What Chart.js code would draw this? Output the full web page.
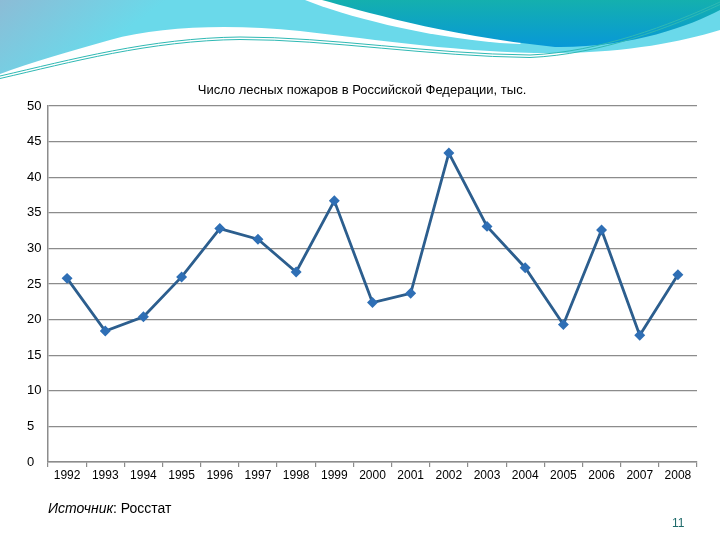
<!DOCTYPE html>
<html><head><meta charset="utf-8">
<script src="https://cdn.jsdelivr.net/npm/chart.js@4/dist/chart.umd.min.js"></script>
<style>
html,body{margin:0;padding:0;background:#fff;}
#wrap{position:relative;width:720px;height:540px;}
#c{position:absolute;left:0;top:0;}
#src{position:absolute;left:48px;top:500px;font:14px "Liberation Sans",Arial,sans-serif;color:#000;}
#pg{position:absolute;left:672px;top:516px;font:12px "Liberation Sans",Arial,sans-serif;color:#1f6b6b;}
</style></head>
<body><div id="wrap"><canvas id="c" width="720" height="540"></canvas>
<div id="src"><i>Источник</i>: Росстат</div><div id="pg">11</div></div>
<script>
const years = ['1992','1993','1994','1995','1996','1997','1998','1999','2000','2001','2002','2003','2004','2005','2006','2007','2008'];
const fires = [25.8,18.4,20.4,26.0,32.8,31.3,26.7,36.7,22.4,23.7,43.4,33.1,27.3,19.3,32.6,17.8,26.3];
const yTicks = [0,5,10,15,20,25,30,35,40,45,50];
const titleText = 'Число лесных пожаров в Российской Федерации, тыс.';

const bg = {
  id:'bg',
  beforeDraw(chart){
    const ctx = chart.ctx;
    ctx.save();
    ctx.fillStyle='#fff'; ctx.fillRect(0,0,720,540);
    // light region
    let g = ctx.createLinearGradient(0,0,60,80);
    g.addColorStop(0,'#8cbcd6'); g.addColorStop(1,'#6ad9ea');
    ctx.fillStyle=g;
    ctx.beginPath();
    ctx.moveTo(0,0); ctx.lineTo(720,0); ctx.lineTo(720,30);
    ctx.bezierCurveTo(680,42,630,52,560,53);
    ctx.bezierCurveTo(470,54,380,40,300,31);
    ctx.bezierCurveTo(230,24,160,26,110,40);
    ctx.bezierCurveTo(70,51,30,63,0,74);
    ctx.closePath(); ctx.fill();
    // white stripe
    ctx.fillStyle='#fff';
    ctx.beginPath();
    ctx.moveTo(305,0);
    ctx.bezierCurveTo(345,16,420,36,500,43);
    ctx.lineTo(520,44); ctx.lineTo(560,0);
    ctx.closePath(); ctx.fill();
    // teal blob
    let g2 = ctx.createLinearGradient(0,0,0,50);
    g2.addColorStop(0,'#14b0ae'); g2.addColorStop(1,'#0797da');
    ctx.fillStyle=g2;
    ctx.beginPath();
    ctx.moveTo(322,0);
    ctx.bezierCurveTo(360,10,440,35,555,47);
    ctx.bezierCurveTo(630,48,690,26,720,10);
    ctx.lineTo(720,0); ctx.closePath(); ctx.fill();
    // thin lines
    ctx.strokeStyle='#2fb9b4'; ctx.lineWidth=1;
    for (const d of [0,2.5]) {
      ctx.beginPath();
      ctx.moveTo(0,76+d);
      ctx.bezierCurveTo(70,60+d,150,38+d,240,37+d);
      ctx.bezierCurveTo(330,37+d,430,54+d,530,55+d);
      ctx.bezierCurveTo(600,52+d,670,25+d,720,2+d);
      ctx.stroke();
    }
    ctx.restore();
  }
};

new Chart(document.getElementById('c'), {
  type:'line',
  data:{labels:years, datasets:[{
    data:fires,
    borderColor:'#2c5e8e',
    borderWidth:2.8,
    backgroundColor:'#2f6fb5',
    pointBackgroundColor:'#2f6fb5',
    pointBorderColor:'#2f6fb5',
    pointStyle:'rectRot',
    pointRadius:3.5,
    tension:0,
    fill:false
  }]},
  options:{
    responsive:false, animation:false,
    layout:{padding:{left:27,right:23,top:82.5,bottom:58}},
    plugins:{
      legend:{display:false}, tooltip:{enabled:false},
      title:{display:true,text:titleText,color:'#000',
        font:{family:'"Liberation Sans", Arial, sans-serif',size:13,weight:'normal',lineHeight:1.2},
        padding:{top:0,bottom:8}}
    },
    scales:{
      x:{
        offset:true,
        grid:{drawOnChartArea:false,offset:true,color:'#8c8c8c',tickLength:5,lineWidth:1.2},
        border:{color:'#8c8c8c',width:1.5},
        ticks:{color:'#000',font:{family:'"Liberation Sans", Arial, sans-serif',size:12},maxRotation:0,autoSkip:false,padding:1},
        afterFit(s){s.height=20;}
      },
      y:{
        min:0,max:50,
        afterBuildTicks(s){s.ticks=yTicks.map(v=>({value:v}));},
        grid:{color:'#8c8c8c',lineWidth:1.3,drawTicks:false},
        border:{color:'#8c8c8c',width:1.5},
        ticks:{color:'#000',crossAlign:'far',padding:4,font:{family:'"Liberation Sans", Arial, sans-serif',size:13}},
        afterFit(s){s.width=21;}
      }
    }
  },
  plugins:[bg]
});
</script></body></html>
